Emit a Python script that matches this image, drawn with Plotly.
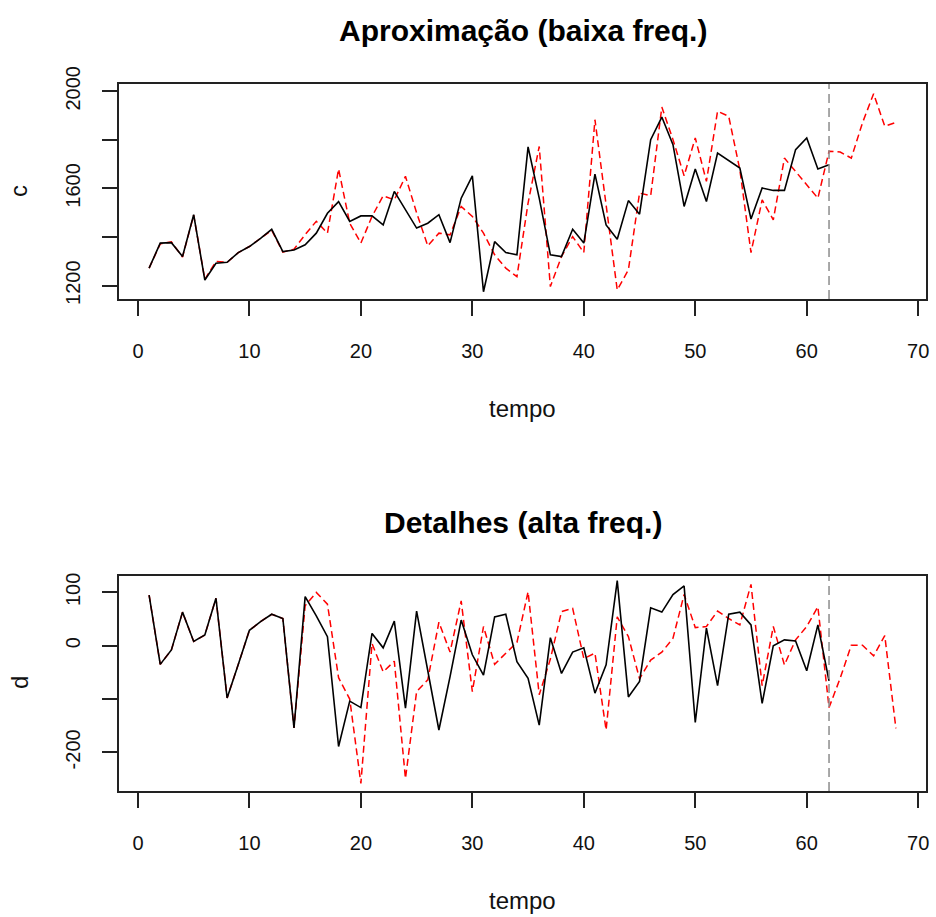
import plotly.graph_objects as go

# time index: observed series runs to t=62, the forecast runs to t=68
tempo_obs = list(range(1, 63))
tempo_prev = list(range(1, 69))
corte = 62  # last observed instant

# low-frequency component (approximation)
aprox_obs = [1272, 1375, 1377, 1320, 1492, 1223, 1292, 1296, 1336, 1361,
             1395, 1432, 1340, 1347, 1368, 1416, 1498, 1546, 1464, 1487,
             1487, 1450, 1588, 1512, 1437, 1457, 1492, 1377, 1560, 1652,
             1175, 1381, 1336, 1327, 1771, 1560, 1327, 1320, 1432, 1375,
             1659, 1450, 1391, 1550, 1494, 1801, 1894, 1780, 1526, 1680,
             1546, 1746, 1715, 1684, 1474, 1602, 1592, 1592, 1760, 1808,
             1680, 1698]
aprox_prev = [1272, 1372, 1380, 1318, 1490, 1226, 1300, 1296, 1336, 1361,
              1395, 1428, 1338, 1350, 1410, 1465, 1416, 1680, 1457, 1375,
              1485, 1570, 1553, 1650, 1500, 1364, 1416, 1409, 1526, 1485,
              1416, 1327, 1272, 1237, 1540, 1773, 1196, 1320, 1402, 1336,
              1883, 1540, 1182, 1265, 1581, 1570, 1935, 1801, 1652, 1808,
              1629, 1918, 1897, 1677, 1336, 1553, 1471, 1725, 1670, 1615,
              1560, 1753, 1750, 1725, 1870, 1990, 1856, 1872]

# high-frequency component (details)
detalhe_obs = [95, -35, -8, 63, 8, 20, 89, -98, -35, 29,
               45, 59, 51, -154, 92, 56, 17, -189, -104, -116,
               23, -4, 46, -117, 65, -45, -158, -58, 48, -17,
               -55, 54, 59, -30, -61, -149, 15, -52, -12, -4,
               -89, -36, 122, -96, -67, 71, 63, 96, 112, -144,
               33, -75, 59, 63, 39, -108, 0, 11, 9, -47,
               39, -66]
detalhe_prev = [95, -35, -8, 63, 8, 20, 89, -98, -35, 29,
                45, 59, 51, -154, 75, 100, 78, -60, -100, -258,
                4, -49, -29, -249, -86, -64, 44, -12, 84, -86,
                36, -35, -14, 6, 101, -92, -25, 64, 70, -24,
                -14, -158, 54, 17, -62, -27, -12, 14, 96, 34,
                36, 65, 51, 39, 115, -75, 36, -36, 11, 36,
                73, -116, -61, 1, 1, -19, 19, -155]

x_ticks = [0, 10, 20, 30, 40, 50, 60, 70]
c_ticks = [1200, 1400, 1600, 1800, 2000]
c_labels = ["1200", "", "1600", "", "2000"]
d_ticks = [-200, -100, 0, 100]
d_labels = ["-200", "", "0", "100"]

W, H = 936, 917
FONT = "Liberation Sans, Arial, sans-serif"


def dom_x(left, right):
    return [left / W, right / W]


def dom_y(top, bottom):
    return [1 - bottom / H, 1 - top / H]


fig = go.Figure()

panels = [
    (1, aprox_obs, aprox_prev),
    (2, detalhe_obs, detalhe_prev),
]
for idx, obs, prev in panels:
    xa = "x" if idx == 1 else "x2"
    ya = "y" if idx == 1 else "y2"
    fig.add_trace(go.Scatter(x=tempo_prev, y=prev, mode="lines",
                             line=dict(color="#ff0000", width=1.5, dash="7px,4px"),
                             xaxis=xa, yaxis=ya, showlegend=False, hoverinfo="skip"))
    fig.add_trace(go.Scatter(x=tempo_obs, y=obs, mode="lines",
                             line=dict(color="#000000", width=1.6),
                             xaxis=xa, yaxis=ya, showlegend=False, hoverinfo="skip"))
    fig.add_shape(type="line", xref=xa, yref=f"{ya} domain",
                  x0=corte, x1=corte, y0=0, y1=1,
                  line=dict(color="#8c8c8c", width=1.5, dash="9px,5px"))

axis_common = dict(showline=True, mirror=True, linecolor="#222222", linewidth=1.5,
                   showgrid=False, zeroline=False, ticks="outside", ticklen=15,
                   tickwidth=1.5, tickcolor="#222222", automargin=False,
                   tickfont=dict(family=FONT, size=20, color="#111111"))

fig.update_layout(
    template="none",
    width=W, height=H,
    margin=dict(l=0, r=0, t=0, b=0, pad=0, autoexpand=False),
    paper_bgcolor="white", plot_bgcolor="white",
    xaxis=dict(domain=dom_x(119, 926), range=[-1.7, 70.7], tickvals=x_ticks,
               anchor="y", ticklabelstandoff=18, **axis_common),
    yaxis=dict(domain=dom_y(84, 299), range=[1145, 2030], tickvals=c_ticks,
               ticktext=c_labels, tickangle=-90, anchor="x",
               ticklabelstandoff=14, **axis_common),
    xaxis2=dict(domain=dom_x(119, 926), range=[-1.7, 70.7], tickvals=x_ticks,
                anchor="y2", ticklabelstandoff=18, **axis_common),
    yaxis2=dict(domain=dom_y(576, 791), range=[-272.4, 130.7], tickvals=d_ticks,
                ticktext=d_labels, tickangle=-90, anchor="x2",
                ticklabelstandoff=14, **axis_common),
)

ann_font = dict(family=FONT, size=24, color="#111111")
title_font = dict(family=FONT, size=30, color="#000000")
cx = (119 + 926) / 2 / W
annotations = [
    dict(text="<b>Aproximação (baixa freq.)</b>", x=cx, y=1 - 30 / H, font=title_font),
    dict(text="<b>Detalhes (alta freq.)</b>", x=cx, y=1 - 522 / H, font=title_font),
    dict(text="tempo", x=cx, y=1 - 408 / H, font=ann_font),
    dict(text="tempo", x=cx, y=1 - 900 / H, font=ann_font),
    dict(text="c", x=19 / W, y=1 - 191 / H, font=ann_font, textangle=-90),
    dict(text="d", x=19 / W, y=1 - 683 / H, font=ann_font, textangle=-90),
]
for a in annotations:
    fig.add_annotation(xref="paper", yref="paper", showarrow=False,
                       xanchor="center", yanchor="middle", **a)

fig.write_html("out.html")
